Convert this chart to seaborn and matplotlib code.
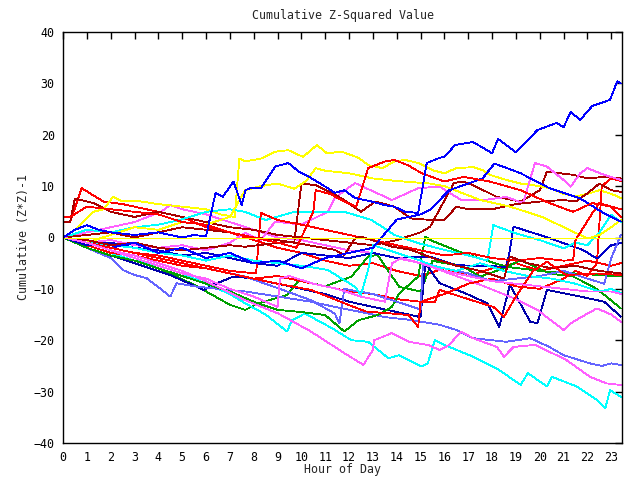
import matplotlib
matplotlib.use("Agg")
import matplotlib.pyplot as plt
import pandas as pd
import seaborn as sns

# ---- data: (hour, cumulative value) breakpoints ----
b1_h = [0, 0.5, 1, 1.5, 2, 3, 4, 5, 5.5, 6.0, 6.4, 6.7, 7.15, 7.5, 7.65, 7.85, 8.3, 8.9, 9.45, 9.9, 10.4, 11.0, 11.4, 11.8, 12.25, 12.95, 13.5, 13.9, 14.35, 14.9, 15.26, 15.8, 16.0, 16.45, 17.2, 18.0, 18.25, 19.0, 19.9, 20.7, 21.0, 21.3, 21.7, 22.2, 22.95, 23.25, 23.4]
b1_v = [0, 1.5, 2.4, 1.5, 1, 0.5, 1, 0, 0.5, 0.2, 8.7, 7.9, 10.9, 6.3, 9.2, 9.6, 9.6, 13.8, 14.5, 12.8, 11.6, 9.9, 8.7, 9.2, 7.7, 7.0, 6.3, 6.0, 5.0, 4.8, 14.5, 15.5, 15.7, 18.0, 18.6, 16.4, 19.2, 16.6, 20.9, 22.3, 21.5, 24.4, 22.9, 25.6, 26.8, 30.4, 30.0]

y0_h = [0, 23.4]
y0_v = [0, 0]

y2_h = [0, 0.5, 1.26, 1.7, 2.1, 2.5, 3, 4, 5, 6, 6.6, 7.2, 7.4, 7.64, 8.34, 8.9, 9.45, 10.07, 10.65, 11.07, 11.7, 12.4, 12.8, 13.4, 13.9, 14.35, 14.9, 15.5, 16.0, 16.5, 17.2, 17.6, 17.9, 18.6, 19.2, 20.0, 20.5, 21.0, 21.5, 22.0, 22.5, 23.0, 23.4]
y2_v = [0, 1.5, 5, 5.5, 7.9, 7, 7.2, 6.5, 6, 5.5, 4.5, 4, 15.4, 14.8, 15.4, 16.7, 17.0, 15.7, 18.0, 16.4, 16.7, 15.5, 14.1, 13.5, 14.8, 15.1, 14.5, 13.1, 12.5, 13.5, 13.7, 13.1, 12.2, 11.2, 10.5, 10, 9.5, 8.5, 8, 8.5, 9.2, 8.5, 7.7]

y3_h = [0, 1, 2, 3, 4, 5, 6, 7, 7.64, 8.3, 9, 9.7, 10.2, 10.6, 11, 12, 13, 14, 15.4, 16.0, 17.5, 18.76, 20.1, 21.55, 22.0, 22.5, 23.0, 23.4]
y3_v = [0, -1, 0.5, 2, 1.5, 3, 2.5, 4, 9.2, 10, 10.5, 9.5, 11, 13.5, 13, 12.5, 11.5, 11, 10.5, 10, 7.3, 6.0, 4.0, 0.8, -0.2, 0.5, 2, 3.4]

rt_h = [0, 0.3, 1, 2, 3, 4, 5, 6, 7, 8, 9, 9.8, 10.5, 10.6, 11.2, 11.8, 12.3, 12.8, 13.5, 13.9, 14.5, 15.05, 16.0, 16.8, 17.9, 19.2, 20.4, 21.4, 22.2, 23.0, 23.4]
rt_v = [4, 4, 6, 5.5, 5, 4.5, 3, 2.5, 1, 0, -1, -2, 5, 9.2, 8.5, 7, 6, 13.5, 14.8, 15.1, 14, 12.5, 10.9, 11.8, 10.9, 9.2, 6.7, 5.0, 6.7, 6.0, 5.5]

r1_h = [0, 0.3, 0.78, 1.7, 2.5, 3, 4, 5, 6, 7, 8, 9, 10, 11, 12, 13, 14, 15, 16, 17, 18, 19, 20, 21, 22, 23, 23.4]
r1_v = [3, 3, 9.6, 7.0, 6.5, 6, 5, 4, 2, 1, -0.5, -2, -3, -4.5, -5.5, -5, -6.5, -7.5, -6, -7.5, -6, -5, -6.5, -5.5, -4.5, -5.5, -5]

r2_h = [0, 1, 2, 3, 4, 5, 6, 7, 8, 9, 10, 11, 12, 13, 14, 15, 16, 17, 18, 19, 20, 21, 21.5, 22.0, 22.4, 22.6, 23.0, 23.4]
r2_v = [0, -1.5, -3, -3.5, -4.5, -5.5, -6, -7, -8, -7.5, -8.5, -9.5, -10.5, -11, -12, -12.5, -11, -9, -8, -9.5, -10, -8, -6.5, -7.5, -5, 10, 11.5, 11]

r3_h = [0, 1, 2, 3, 4, 5, 6, 7, 8.1, 8.3, 9, 10, 11, 12, 13, 14, 15, 16, 17, 18, 19, 20, 21, 21.4, 21.5, 22.2, 22.5, 23.0, 23.4]
r3_v = [0, -1, -2, -3, -3.5, -4.5, -5.5, -6.5, -7, 4.8, 3.4, 2.5, 1.5, 0.5, -0.5, -1.5, -2.5, -3.5, -3, -4, -4.5, -4, -4.5, -4.4, -0.5, 4.7, 6.7, 6, 4]

r4_h = [0, 1, 2, 3, 4, 5, 6, 7, 8, 9, 10.4, 11.8, 12.7, 13.8, 14.5, 14.9, 15.0, 15.6, 15.8, 17.0, 18.05, 18.5, 19.0, 19.7, 20.3, 21.1, 22.4, 23.4]
r4_v = [0, -1, -2, -3, -4, -5, -6, -7, -8, -9, -10.2, -12.8, -14.4, -14.8, -15.1, -17.4, -12.5, -12.5, -10.2, -12, -13.5, -15.4, -11.5, -6.6, -4.7, -7.3, -7.0, -7.3]

d1_h = [0, 0.3, 0.5, 1.27, 2, 3, 4, 5, 6, 7, 8, 9, 10, 11, 12, 13, 14, 15, 15.4, 16.4, 16.8, 17.2, 18.2, 19.2, 20.0, 20.3, 21.4, 22.0, 22.7, 23.4]
d1_v = [3, 3, 7.6, 6.7, 5, 4, 5, 4, 3, 2, 1.5, 0.5, 0, -0.5, -1, -1.5, -0.5, 1, 2.1, 10.6, 10.9, 10.2, 7.9, 7.0, 9.2, 12.8, 12.2, 11.5, 11.8, 11.5]

d2_h = [0, 1, 2, 3, 4, 5, 6, 7, 8, 9, 9.7, 10.0, 10.6, 11.7, 12.5, 13.1, 13.9, 14.6, 15.5, 16.0, 16.5, 17.0, 18, 19, 20, 21, 21.5, 22, 22.5, 23.0, 23.4]
d2_v = [0, 0.5, 1, 0, 1, 2, 1.5, 1, 0, -0.5, -1, 10.5, 10.2, 7.6, 5.0, 7.0, 6.0, 3.7, 3.4, 3.4, 6, 5.5, 5.5, 6.5, 7, 7.3, 7, 8.6, 10.5, 9.2, 8.9]

d3_h = [0, 1, 2, 3, 4, 5, 6, 7, 7.64, 9.45, 11.4, 11.8, 12.25, 12.5, 13.8, 14.6, 15.5, 16.5, 17.5, 18.5, 18.75, 19.5, 20.5, 21.5, 22.5, 23.4]
d3_v = [0, -0.5, -1.5, -1, -2, -2.5, -2, -1.5, -1.8, -0.8, -2.4, -3.4, -0.2, 0.2, -1.8, -2.4, -4, -5.5, -6.5, -8, -3.7, -5, -6, -5.5, -6.5, -7]

b2_h = [0, 1, 2, 3, 4.5, 5.9, 6.3, 7.15, 7.85, 9, 10, 11, 12, 13, 14, 15, 15.2, 15.8, 16.9, 17.8, 18.3, 18.75, 19.6, 19.9, 20.3, 21.7, 22.7, 23.4]
b2_v = [0, -2, -3.5, -5, -7.3, -10.2, -9.2, -7.6, -7.9, -9, -10, -11, -12.5, -13.5, -14.5, -15.5, -5, -8.9, -10.9, -12.8, -17.4, -9.2, -16.4, -16.7, -10.2, -11.5, -12.5, -15.4]

b3_h = [0, 1, 2, 3, 4, 5, 6, 7, 8, 9, 10, 11, 12, 13, 14, 15.4, 16.5, 17.5, 18.6, 18.75, 18.9, 20.2, 21.0, 21.8, 22.4, 23.0, 23.4]
b3_v = [0, -1.5, -1, -2, -2.5, -3.5, -3, -4, -5, -5.5, -3, -3.5, -4, -3, -4, -3.7, -5.4, -5.5, -5.7, -2.4, 2.1, 0.2, -1.1, -2.4, -4.1, -1.5, -1.1]

b4_h = [0, 1, 2, 3, 4, 5, 6, 7, 8, 9, 10, 11, 12, 13, 14, 15, 15.4, 16.2, 17.6, 18.1, 19.2, 20.4, 21.7, 22.7, 23.4]
b4_v = [0, -1, -2, -1, -3, -2, -4, -3, -5, -4.5, -6, -4, -3, -2, 3.5, 4.5, 5.4, 9.2, 11.5, 14.4, 12.5, 9.6, 7.6, 4.7, 3.1]

p1_h = [0, 1, 2, 2.5, 3, 3.5, 4.07, 4.5, 4.77, 5.5, 6.5, 7.64, 9.03, 10.4, 11.4, 12.5, 13.5, 14.5, 15.8, 16.5, 17.2, 18.6, 19.6, 20.4, 21.0, 22.1, 22.6, 23.0, 23.4]
p1_v = [0, -2, -4, -6.3, -7.3, -7.9, -9.9, -11.5, -8.9, -9.5, -10, -10.5, -11.5, -12.5, -13.5, -14.5, -15.5, -16, -17, -18, -19.6, -20.3, -19.6, -21.3, -22.9, -24.5, -25, -24.5, -24.8]

p2_h = [0, 1, 2, 3, 4, 5, 6, 7.64, 9.03, 10.4, 11.4, 11.6, 11.8, 13, 14, 15, 15.1, 16, 17, 18, 19, 20, 21, 22, 22.7, 23.0, 23.4]
p2_v = [0, -1, -2, -3, -4, -5, -6, -7.6, -9.9, -12.2, -14.8, -16.7, -10, -11, -12.5, -14, -5, -6, -7, -8.5, -8, -7.5, -6.5, -8, -9, -4, 0.5]

g1_h = [0, 1, 2, 3, 4, 5.5, 7.0, 7.64, 8.2, 9.4, 9.9, 11, 12.1, 12.8, 13.2, 14.1, 15, 15.5, 16.0, 16.7, 17.5, 18.5, 19.2, 20.4, 21.4, 22.25, 22.8, 23.4]
g1_v = [0, -1.5, -3, -4.5, -6, -9.2, -13.1, -14.1, -12.8, -11.2, -8.3, -9.5, -7.6, -3.7, -3.4, -9.6, -10.5, -4.5, -5, -5.4, -7.6, -6, -4.4, -7.0, -7.6, -9.6, -11.5, -13.8]

g2_h = [0, 1, 2, 3, 4, 5, 6, 7, 8, 9.0, 10, 11, 11.8, 12.4, 13.2, 13.8, 14.1, 14.9, 15.2, 15.4, 16.8, 17.9, 18.6, 20.2, 21.5, 22.5, 23.4]
g2_v = [0, -2, -3.5, -4.5, -6, -7.5, -9, -10.5, -12.5, -14.1, -14.5, -15.1, -18.3, -16.1, -15.1, -13.5, -10.9, -7.6, 0.2, -0.5, -3.1, -4.7, -5.7, -6.6, -7, -7.3, -7.6]

c1_h = [0, 1, 2, 3, 4, 5, 6, 7, 7.64, 8.5, 9.4, 9.6, 10.15, 11.3, 12.1, 12.8, 13.65, 14.1, 15.05, 15.3, 15.6, 16.0, 17.2, 18.3, 19.2, 19.5, 20.3, 20.5, 21.55, 22.4, 22.75, 22.95, 23.4]
c1_v = [0, -1.5, -3, -4.5, -5.5, -7, -9, -11, -12.8, -15, -18.3, -16.1, -14.8, -17.7, -20, -20.3, -23.5, -22.9, -25.1, -24.5, -20, -20.9, -23.2, -25.8, -28.7, -26.4, -29, -27.1, -29, -31.6, -33.2, -29.7, -31]

c2_h = [0, 1, 2, 3, 4, 4.9, 6.0, 7, 7.64, 8.5, 9.7, 11.8, 12.95, 13.9, 14.9, 16.0, 17, 17.8, 18.05, 19.0, 20.0, 21.0, 21.5, 22.0, 22.5, 23.0, 23.4]
c2_v = [0, 1.5, 1, 2, 2.5, 3.4, 5.0, 5.5, 5.0, 3.4, 5.0, 5.0, 3.4, 0.5, -1.1, -2.4, -3.5, -4.5, 2.4, 0.8, -0.5, -2.1, -1, -1.5, 1, 4.4, 3]

c3_h = [0, 1, 2, 3, 4, 5, 6, 7, 8, 9, 10, 11.1, 12.25, 12.5, 12.8, 13.0, 14, 15, 15.5, 16.5, 17.5, 18.5, 19.5, 20.5, 21.5, 22.5, 23.0, 23.4]
c3_v = [0, -1, -1.5, -2, -3, -3.5, -4.5, -3.5, -4.5, -5, -5.5, -6.3, -9.6, -11.2, -6.3, -1.5, -3, -4.5, -5.5, -6.5, -5, -6.5, -7.5, -8, -9, -10.5, -10, -10.8]

m1_h = [0, 1, 2, 3, 4, 5, 6, 7, 7.64, 8.3, 8.9, 10, 11.1, 11.4, 12.25, 13.0, 13.8, 14.9, 15.8, 16.7, 17.7, 18.6, 19.3, 19.8, 20.3, 21.0, 21.3, 21.7, 22.0, 22.7, 23.4]
m1_v = [0, -1, -0.5, -1.5, -2, -1.5, -2.5, -1, 0.9, -0.5, 3.1, 2.5, 5.0, 7.7, 10.6, 9, 7.3, 9.6, 9.9, 7.3, 7.3, 7.9, 6.7, 14.5, 13.8, 11.2, 9.9, 12.5, 13.5, 12.2, 11.2]

m2_h = [0, 1, 2, 3, 4.1, 4.5, 5, 6, 7, 8, 9, 10, 11, 12, 13, 14, 15, 15.8, 16.5, 17.5, 18.9, 19.9, 21.0, 21.3, 22.0, 22.4, 23.0, 23.4]
m2_v = [0, 1, 2, 3, 5.0, 6.3, 5.5, 4.5, 3, 1.5, 0, -0.5, -1.5, -2.5, -3, -4, -5, -6.3, -7.5, -9.2, -11.8, -14.1, -18, -16.7, -14.8, -13.8, -15, -16.4]

m3_h = [0, 1, 2, 3, 4, 5, 6, 7, 8, 9.0, 9.1, 9.5, 10.5, 11.5, 12.5, 13.5, 13.8, 14.2, 15, 16, 17, 18, 19, 20, 21, 22, 23, 23.4]
m3_v = [0, -1, -2.5, -4, -5.5, -7, -8, -10, -11.5, -13.5, -8, -7.5, -9, -10, -11.5, -12.5, -5, -4, -5, -6.5, -7.5, -8.5, -9, -9.5, -10, -10.5, -10.5, -11]

m4_h = [0, 1, 2, 3, 4, 5, 6, 7.64, 9.03, 10.4, 11.8, 12.6, 13.0, 13.05, 13.8, 14.5, 15.3, 15.8, 16.2, 16.7, 17.2, 18.2, 18.5, 18.9, 19.8, 21.1, 22.1, 22.8, 23.4]
m4_v = [0, -1, -2.5, -3.5, -5, -6.5, -8.5, -12.2, -14.8, -18.3, -22.5, -24.8, -21.9, -20, -18.6, -20.3, -20.9, -21.9, -20.9, -18.3, -19.6, -21.3, -23.2, -21.3, -20.9, -23.8, -27.1, -28.4, -28.7]

# name, hours, values, colour  (drawing order as in the chart)
series = [
    ("r1", r1_h, r1_v, "#ff0000"),
    ("g1", g1_h, g1_v, "#00a000"),
    ("b2", b2_h, b2_v, "#0000a8"),
    ("m2", m2_h, m2_v, "#ff60ff"),
    ("c1", c1_h, c1_v, "#00ffff"),
    ("d1", d1_h, d1_v, "#a80000"),
    ("y2", y2_h, y2_v, "#ffff00"),
    ("p1", p1_h, p1_v, "#6464ff"),
    ("r2", r2_h, r2_v, "#ff0000"),
    ("g2", g2_h, g2_v, "#00a000"),
    ("b3", b3_h, b3_v, "#0000c8"),
    ("m1", m1_h, m1_v, "#ff60ff"),
    ("c2", c2_h, c2_v, "#00ffff"),
    ("d2", d2_h, d2_v, "#a80000"),
    ("y3", y3_h, y3_v, "#ffff00"),
    ("p2", p2_h, p2_v, "#6464ff"),
    ("r3", r3_h, r3_v, "#ff0000"),
    ("m4", m4_h, m4_v, "#ff60ff"),
    ("c3", c3_h, c3_v, "#00ffff"),
    ("d3", d3_h, d3_v, "#a80000"),
    ("b4", b4_h, b4_v, "#0000ff"),
    ("r4", r4_h, r4_v, "#ff0000"),
    ("m3", m3_h, m3_v, "#ff60ff"),
    ("rt", rt_h, rt_v, "#ff0000"),
    ("y0", y0_h, y0_v, "#ffff00"),
    ("b1", b1_h, b1_v, "#0000ff"),
]

x_ticks = list(range(0, 24))
y_ticks = list(range(-40, 41, 10))

rows = []
for name, hs, vs, _ in series:
    for h, v in zip(hs, vs):
        rows.append({"series": name, "hour": h, "value": v})
df = pd.DataFrame(rows)
order = [s[0] for s in series]
palette = {s[0]: s[3] for s in series}

sns.set_style("white")
plt.rcParams["font.family"] = ["DejaVu Sans Mono"]

fig = plt.figure(figsize=(6.4, 4.8), dpi=100)
ax = fig.add_axes([63 / 640, 37 / 480, (622 - 63) / 640, (443 - 32) / 480])

sns.lineplot(data=df, x="hour", y="value", hue="series", hue_order=order,
             palette=palette, estimator=None, sort=False, legend=False,
             linewidth=0.6, ax=ax)
for ln in ax.lines:
    ln.set_antialiased(False)
    ln.set_linewidth(0.6)

ax.set_xlim(0, 23.45)
ax.set_ylim(-40, 40)
ax.set_xticks(x_ticks)
ax.set_yticks(y_ticks)
ax.tick_params(direction="in", top=True, right=True, length=5, width=1,
               labelsize=8.4, colors="black")
ax.tick_params(axis="x", pad=6)
ax.tick_params(axis="y", pad=6)
for sp in ax.spines.values():
    sp.set_color("black")
    sp.set_linewidth(1)
    sp.set_visible(True)

fs = 8.4
ax.set_title("Cumulative Z-Squared Value", fontsize=fs, pad=9)
ax.set_xlabel("Hour of Day", fontsize=fs)
ax.set_ylabel("Cumulative (Z*Z)-1", fontsize=fs)
ax.xaxis.set_label_coords(0.5, (443 - 470) / 411)
ax.xaxis.label.set_va("center")
ax.yaxis.set_label_coords((24 - 63) / 559, 0.5)
ax.yaxis.label.set_va("center")

fig.savefig("out.png", dpi=100, facecolor="white")
